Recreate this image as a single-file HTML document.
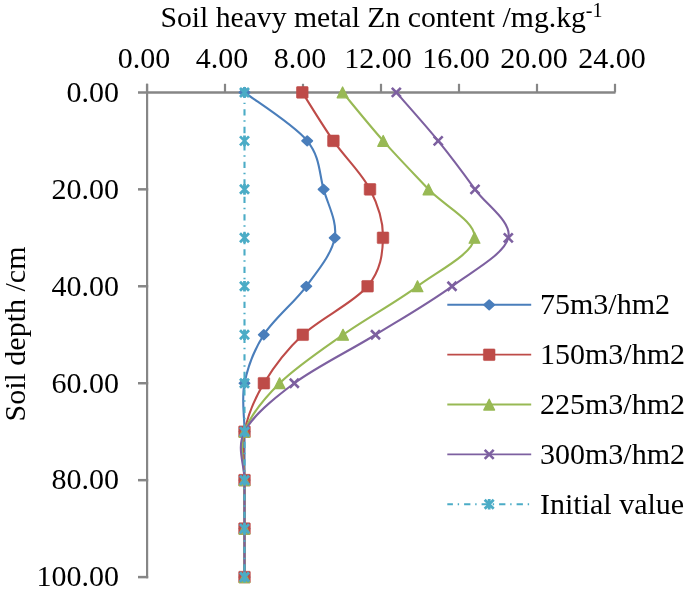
<!DOCTYPE html>
<html><head><meta charset="utf-8"><style>
html,body{margin:0;padding:0;background:#fff;}
body{width:685px;height:596px;overflow:hidden;}
svg{display:block;will-change:transform;}
.t{font-family:"Liberation Serif",serif;font-size:30px;fill:#000;}
</style></head><body>
<svg width="685" height="596" viewBox="0 0 685 596">
<path d="M138,92.4 L615.5,92.4" stroke="#868686" stroke-width="2.5" fill="none"/>
<path d="M147.0,83.8 L147.0,92.4" stroke="#868686" stroke-width="2.2" fill="none"/>
<path d="M225.0,83.8 L225.0,92.4" stroke="#868686" stroke-width="2.2" fill="none"/>
<path d="M303.0,83.8 L303.0,92.4" stroke="#868686" stroke-width="2.2" fill="none"/>
<path d="M381.0,83.8 L381.0,92.4" stroke="#868686" stroke-width="2.2" fill="none"/>
<path d="M459.0,83.8 L459.0,92.4" stroke="#868686" stroke-width="2.2" fill="none"/>
<path d="M537.0,83.8 L537.0,92.4" stroke="#868686" stroke-width="2.2" fill="none"/>
<path d="M615.0,83.8 L615.0,92.4" stroke="#868686" stroke-width="2.2" fill="none"/>
<path d="M147.1,83.8 L147.1,578.3" stroke="#868686" stroke-width="2.2" fill="none"/>
<path d="M138,189.34 L148.2,189.34" stroke="#868686" stroke-width="2.5" fill="none"/>
<path d="M138,286.28 L148.2,286.28" stroke="#868686" stroke-width="2.5" fill="none"/>
<path d="M138,383.22 L148.2,383.22" stroke="#868686" stroke-width="2.5" fill="none"/>
<path d="M138,480.16 L148.2,480.16" stroke="#868686" stroke-width="2.5" fill="none"/>
<path d="M138,577.10 L148.2,577.10" stroke="#868686" stroke-width="2.5" fill="none"/>
<path d="M244.50,92.40 C254.95,100.48 294.02,124.71 307.20,140.87 C320.38,157.03 319.02,173.18 323.60,189.34 C328.18,205.50 337.58,221.65 334.70,237.81 C331.82,253.97 318.12,270.12 306.30,286.28 C294.48,302.44 274.10,318.59 263.80,334.75 C253.50,350.91 247.72,367.06 244.50,383.22 C241.28,399.38 244.50,415.53 244.50,431.69 C244.50,447.85 244.50,464.00 244.50,480.16 C244.50,496.32 244.50,512.47 244.50,528.63 C244.50,544.79 244.50,569.02 244.50,577.10" stroke="#4A7EBB" stroke-width="2.1" fill="none"/>
<path d="M244.50,87.60 L249.70,92.40 L244.50,97.20 L239.30,92.40 Z" fill="#4A7EBB" stroke="#4A7EBB" stroke-width="1.6" stroke-linejoin="round"/>
<path d="M307.20,136.07 L312.40,140.87 L307.20,145.67 L302.00,140.87 Z" fill="#4A7EBB" stroke="#4A7EBB" stroke-width="1.6" stroke-linejoin="round"/>
<path d="M323.60,184.54 L328.80,189.34 L323.60,194.14 L318.40,189.34 Z" fill="#4A7EBB" stroke="#4A7EBB" stroke-width="1.6" stroke-linejoin="round"/>
<path d="M334.70,233.01 L339.90,237.81 L334.70,242.61 L329.50,237.81 Z" fill="#4A7EBB" stroke="#4A7EBB" stroke-width="1.6" stroke-linejoin="round"/>
<path d="M306.30,281.48 L311.50,286.28 L306.30,291.08 L301.10,286.28 Z" fill="#4A7EBB" stroke="#4A7EBB" stroke-width="1.6" stroke-linejoin="round"/>
<path d="M263.80,329.95 L269.00,334.75 L263.80,339.55 L258.60,334.75 Z" fill="#4A7EBB" stroke="#4A7EBB" stroke-width="1.6" stroke-linejoin="round"/>
<path d="M244.50,378.42 L249.70,383.22 L244.50,388.02 L239.30,383.22 Z" fill="#4A7EBB" stroke="#4A7EBB" stroke-width="1.6" stroke-linejoin="round"/>
<path d="M244.50,426.89 L249.70,431.69 L244.50,436.49 L239.30,431.69 Z" fill="#4A7EBB" stroke="#4A7EBB" stroke-width="1.6" stroke-linejoin="round"/>
<path d="M244.50,475.36 L249.70,480.16 L244.50,484.96 L239.30,480.16 Z" fill="#4A7EBB" stroke="#4A7EBB" stroke-width="1.6" stroke-linejoin="round"/>
<path d="M244.50,523.83 L249.70,528.63 L244.50,533.43 L239.30,528.63 Z" fill="#4A7EBB" stroke="#4A7EBB" stroke-width="1.6" stroke-linejoin="round"/>
<path d="M244.50,572.30 L249.70,577.10 L244.50,581.90 L239.30,577.10 Z" fill="#4A7EBB" stroke="#4A7EBB" stroke-width="1.6" stroke-linejoin="round"/>
<path d="M302.30,92.40 C307.48,100.48 322.12,124.71 333.40,140.87 C344.68,157.03 361.73,173.18 370.00,189.34 C378.27,205.50 383.40,221.65 383.00,237.81 C382.60,253.97 380.97,270.12 367.60,286.28 C354.23,302.44 320.08,318.59 302.80,334.75 C285.52,350.91 273.62,367.06 263.90,383.22 C254.18,399.38 247.73,415.53 244.50,431.69 C241.27,447.85 244.50,464.00 244.50,480.16 C244.50,496.32 244.50,512.47 244.50,528.63 C244.50,544.79 244.50,569.02 244.50,577.10" stroke="#BE4B48" stroke-width="2.1" fill="none"/>
<rect x="296.50" y="86.60" width="11.60" height="11.60" rx="0.8" fill="#BE4B48" stroke="#BE4B48" stroke-width="0.6"/>
<rect x="327.60" y="135.07" width="11.60" height="11.60" rx="0.8" fill="#BE4B48" stroke="#BE4B48" stroke-width="0.6"/>
<rect x="364.20" y="183.54" width="11.60" height="11.60" rx="0.8" fill="#BE4B48" stroke="#BE4B48" stroke-width="0.6"/>
<rect x="377.20" y="232.01" width="11.60" height="11.60" rx="0.8" fill="#BE4B48" stroke="#BE4B48" stroke-width="0.6"/>
<rect x="361.80" y="280.48" width="11.60" height="11.60" rx="0.8" fill="#BE4B48" stroke="#BE4B48" stroke-width="0.6"/>
<rect x="297.00" y="328.95" width="11.60" height="11.60" rx="0.8" fill="#BE4B48" stroke="#BE4B48" stroke-width="0.6"/>
<rect x="258.10" y="377.42" width="11.60" height="11.60" rx="0.8" fill="#BE4B48" stroke="#BE4B48" stroke-width="0.6"/>
<rect x="238.70" y="425.89" width="11.60" height="11.60" rx="0.8" fill="#BE4B48" stroke="#BE4B48" stroke-width="0.6"/>
<rect x="238.70" y="474.36" width="11.60" height="11.60" rx="0.8" fill="#BE4B48" stroke="#BE4B48" stroke-width="0.6"/>
<rect x="238.70" y="522.83" width="11.60" height="11.60" rx="0.8" fill="#BE4B48" stroke="#BE4B48" stroke-width="0.6"/>
<rect x="238.70" y="571.30" width="11.60" height="11.60" rx="0.8" fill="#BE4B48" stroke="#BE4B48" stroke-width="0.6"/>
<path d="M342.60,92.40 C349.37,100.48 368.88,124.71 383.20,140.87 C397.52,157.03 413.28,173.18 428.50,189.34 C443.72,205.50 476.33,221.65 474.50,237.81 C472.67,253.97 439.42,270.12 417.50,286.28 C395.58,302.44 365.98,318.59 343.00,334.75 C320.02,350.91 296.02,367.06 279.60,383.22 C263.18,399.38 250.35,415.53 244.50,431.69 C238.65,447.85 244.50,464.00 244.50,480.16 C244.50,496.32 244.50,512.47 244.50,528.63 C244.50,544.79 244.50,569.02 244.50,577.10" stroke="#98B954" stroke-width="2.1" fill="none"/>
<path d="M342.60,87.00 L348.00,97.80 L337.20,97.80 Z" fill="#98B954" stroke="#98B954" stroke-width="1.3" stroke-linejoin="round"/>
<path d="M383.20,135.47 L388.60,146.27 L377.80,146.27 Z" fill="#98B954" stroke="#98B954" stroke-width="1.3" stroke-linejoin="round"/>
<path d="M428.50,183.94 L433.90,194.74 L423.10,194.74 Z" fill="#98B954" stroke="#98B954" stroke-width="1.3" stroke-linejoin="round"/>
<path d="M474.50,232.41 L479.90,243.21 L469.10,243.21 Z" fill="#98B954" stroke="#98B954" stroke-width="1.3" stroke-linejoin="round"/>
<path d="M417.50,280.88 L422.90,291.68 L412.10,291.68 Z" fill="#98B954" stroke="#98B954" stroke-width="1.3" stroke-linejoin="round"/>
<path d="M343.00,329.35 L348.40,340.15 L337.60,340.15 Z" fill="#98B954" stroke="#98B954" stroke-width="1.3" stroke-linejoin="round"/>
<path d="M279.60,377.82 L285.00,388.62 L274.20,388.62 Z" fill="#98B954" stroke="#98B954" stroke-width="1.3" stroke-linejoin="round"/>
<path d="M244.50,426.29 L249.90,437.09 L239.10,437.09 Z" fill="#98B954" stroke="#98B954" stroke-width="1.3" stroke-linejoin="round"/>
<path d="M244.50,474.76 L249.90,485.56 L239.10,485.56 Z" fill="#98B954" stroke="#98B954" stroke-width="1.3" stroke-linejoin="round"/>
<path d="M244.50,523.23 L249.90,534.03 L239.10,534.03 Z" fill="#98B954" stroke="#98B954" stroke-width="1.3" stroke-linejoin="round"/>
<path d="M244.50,571.70 L249.90,582.50 L239.10,582.50 Z" fill="#98B954" stroke="#98B954" stroke-width="1.3" stroke-linejoin="round"/>
<path d="M396.30,92.40 C403.28,100.48 425.08,124.71 438.20,140.87 C451.32,157.03 463.32,173.18 475.00,189.34 C486.68,205.50 512.13,221.65 508.30,237.81 C504.47,253.97 474.13,270.12 452.00,286.28 C429.87,302.44 401.78,318.59 375.50,334.75 C349.22,350.91 316.13,367.06 294.30,383.22 C272.47,399.38 252.80,415.53 244.50,431.69 C236.20,447.85 244.50,464.00 244.50,480.16 C244.50,496.32 244.50,512.47 244.50,528.63 C244.50,544.79 244.50,569.02 244.50,577.10" stroke="#7D60A0" stroke-width="2.1" fill="none"/>
<path d="M391.80,87.90 L400.80,96.90 M400.80,87.90 L391.80,96.90" stroke="#7D60A0" stroke-width="2.6" fill="none"/>
<path d="M433.70,136.37 L442.70,145.37 M442.70,136.37 L433.70,145.37" stroke="#7D60A0" stroke-width="2.6" fill="none"/>
<path d="M470.50,184.84 L479.50,193.84 M479.50,184.84 L470.50,193.84" stroke="#7D60A0" stroke-width="2.6" fill="none"/>
<path d="M503.80,233.31 L512.80,242.31 M512.80,233.31 L503.80,242.31" stroke="#7D60A0" stroke-width="2.6" fill="none"/>
<path d="M447.50,281.78 L456.50,290.78 M456.50,281.78 L447.50,290.78" stroke="#7D60A0" stroke-width="2.6" fill="none"/>
<path d="M371.00,330.25 L380.00,339.25 M380.00,330.25 L371.00,339.25" stroke="#7D60A0" stroke-width="2.6" fill="none"/>
<path d="M289.80,378.72 L298.80,387.72 M298.80,378.72 L289.80,387.72" stroke="#7D60A0" stroke-width="2.6" fill="none"/>
<path d="M240.00,427.19 L249.00,436.19 M249.00,427.19 L240.00,436.19" stroke="#7D60A0" stroke-width="2.6" fill="none"/>
<path d="M240.00,475.66 L249.00,484.66 M249.00,475.66 L240.00,484.66" stroke="#7D60A0" stroke-width="2.6" fill="none"/>
<path d="M240.00,524.13 L249.00,533.13 M249.00,524.13 L240.00,533.13" stroke="#7D60A0" stroke-width="2.6" fill="none"/>
<path d="M240.00,572.60 L249.00,581.60 M249.00,572.60 L240.00,581.60" stroke="#7D60A0" stroke-width="2.6" fill="none"/>
<path d="M244.50,92.40 C244.50,100.48 244.50,124.71 244.50,140.87 C244.50,157.03 244.50,173.18 244.50,189.34 C244.50,205.50 244.50,221.65 244.50,237.81 C244.50,253.97 244.50,270.12 244.50,286.28 C244.50,302.44 244.50,318.59 244.50,334.75 C244.50,350.91 244.50,367.06 244.50,383.22 C244.50,399.38 244.50,415.53 244.50,431.69 C244.50,447.85 244.50,464.00 244.50,480.16 C244.50,496.32 244.50,512.47 244.50,528.63 C244.50,544.79 244.50,569.02 244.50,577.10" stroke="#4BACC6" stroke-width="2.1" fill="none" stroke-dasharray="6.3 4.8 1.4 5" stroke-dashoffset="0.7"/>
<path d="M240.00,87.90 L249.00,96.90 M249.00,87.90 L240.00,96.90 M244.50,87.10 L244.50,97.70" stroke="#4BACC6" stroke-width="2.8" fill="none"/>
<path d="M240.00,136.37 L249.00,145.37 M249.00,136.37 L240.00,145.37 M244.50,135.57 L244.50,146.17" stroke="#4BACC6" stroke-width="2.8" fill="none"/>
<path d="M240.00,184.84 L249.00,193.84 M249.00,184.84 L240.00,193.84 M244.50,184.04 L244.50,194.64" stroke="#4BACC6" stroke-width="2.8" fill="none"/>
<path d="M240.00,233.31 L249.00,242.31 M249.00,233.31 L240.00,242.31 M244.50,232.51 L244.50,243.11" stroke="#4BACC6" stroke-width="2.8" fill="none"/>
<path d="M240.00,281.78 L249.00,290.78 M249.00,281.78 L240.00,290.78 M244.50,280.98 L244.50,291.58" stroke="#4BACC6" stroke-width="2.8" fill="none"/>
<path d="M240.00,330.25 L249.00,339.25 M249.00,330.25 L240.00,339.25 M244.50,329.45 L244.50,340.05" stroke="#4BACC6" stroke-width="2.8" fill="none"/>
<path d="M240.00,378.72 L249.00,387.72 M249.00,378.72 L240.00,387.72 M244.50,377.92 L244.50,388.52" stroke="#4BACC6" stroke-width="2.8" fill="none"/>
<path d="M240.00,427.19 L249.00,436.19 M249.00,427.19 L240.00,436.19 M244.50,426.39 L244.50,436.99" stroke="#4BACC6" stroke-width="2.8" fill="none"/>
<path d="M240.00,475.66 L249.00,484.66 M249.00,475.66 L240.00,484.66 M244.50,474.86 L244.50,485.46" stroke="#4BACC6" stroke-width="2.8" fill="none"/>
<path d="M240.00,524.13 L249.00,533.13 M249.00,524.13 L240.00,533.13 M244.50,523.33 L244.50,533.93" stroke="#4BACC6" stroke-width="2.8" fill="none"/>
<path d="M240.00,572.60 L249.00,581.60 M249.00,572.60 L240.00,581.60 M244.50,571.80 L244.50,582.40" stroke="#4BACC6" stroke-width="2.8" fill="none"/>
<path d="M447.3,304.80 L531.2,304.80" stroke="#4A7EBB" stroke-width="1.9" fill="none"/>
<path d="M489.20,300.10 L494.40,304.90 L489.20,309.70 L484.00,304.90 Z" fill="#4A7EBB" stroke="#4A7EBB" stroke-width="1.6" stroke-linejoin="round"/>
<text x="540" y="314.10" class="t">75m3/hm2</text>
<path d="M447.3,354.65 L531.2,354.65" stroke="#BE4B48" stroke-width="1.9" fill="none"/>
<rect x="483.40" y="348.95" width="11.60" height="11.60" rx="0.8" fill="#BE4B48" stroke="#BE4B48" stroke-width="0.6"/>
<text x="540" y="363.95" class="t">150m3/hm2</text>
<path d="M447.3,404.50 L531.2,404.50" stroke="#98B954" stroke-width="1.9" fill="none"/>
<path d="M489.20,399.20 L494.60,410.00 L483.80,410.00 Z" fill="#98B954" stroke="#98B954" stroke-width="1.3" stroke-linejoin="round"/>
<text x="540" y="413.80" class="t">225m3/hm2</text>
<path d="M447.3,454.35 L531.2,454.35" stroke="#7D60A0" stroke-width="1.9" fill="none"/>
<path d="M484.70,449.95 L493.70,458.95 M493.70,449.95 L484.70,458.95" stroke="#7D60A0" stroke-width="2.6" fill="none"/>
<text x="540" y="463.65" class="t">300m3/hm2</text>
<path d="M447.3,504.20 L531.2,504.20" stroke="#4BACC6" stroke-width="1.9" fill="none" stroke-dasharray="6.3 4.8 1.4 5" stroke-dashoffset="0.7"/>
<path d="M484.70,499.80 L493.70,508.80 M493.70,499.80 L484.70,508.80 M489.20,499.00 L489.20,509.60" stroke="#4BACC6" stroke-width="2.8" fill="none"/>
<text x="540" y="513.50" class="t">Initial value</text>
<text x="144.00" y="68" class="t" text-anchor="middle">0.00</text>
<text x="222.00" y="68" class="t" text-anchor="middle">4.00</text>
<text x="300.00" y="68" class="t" text-anchor="middle">8.00</text>
<text x="378.00" y="68" class="t" text-anchor="middle">12.00</text>
<text x="456.00" y="68" class="t" text-anchor="middle">16.00</text>
<text x="534.00" y="68" class="t" text-anchor="middle">20.00</text>
<text x="612.00" y="68" class="t" text-anchor="middle">24.00</text>
<text x="119" y="101.70" class="t" text-anchor="end">0.00</text>
<text x="119" y="198.64" class="t" text-anchor="end">20.00</text>
<text x="119" y="295.58" class="t" text-anchor="end">40.00</text>
<text x="119" y="392.52" class="t" text-anchor="end">60.00</text>
<text x="119" y="489.46" class="t" text-anchor="end">80.00</text>
<text x="119" y="586.40" class="t" text-anchor="end">100.00</text>
<text x="160.4" y="26.5" class="t" style="font-size:29.7px">Soil heavy metal Zn content /mg.kg<tspan dy="-9.6" style="font-size:20px">-1</tspan></text>
<text transform="translate(25,334) rotate(-90)" class="t" text-anchor="middle">Soil depth /cm</text>
</svg>
</body></html>
